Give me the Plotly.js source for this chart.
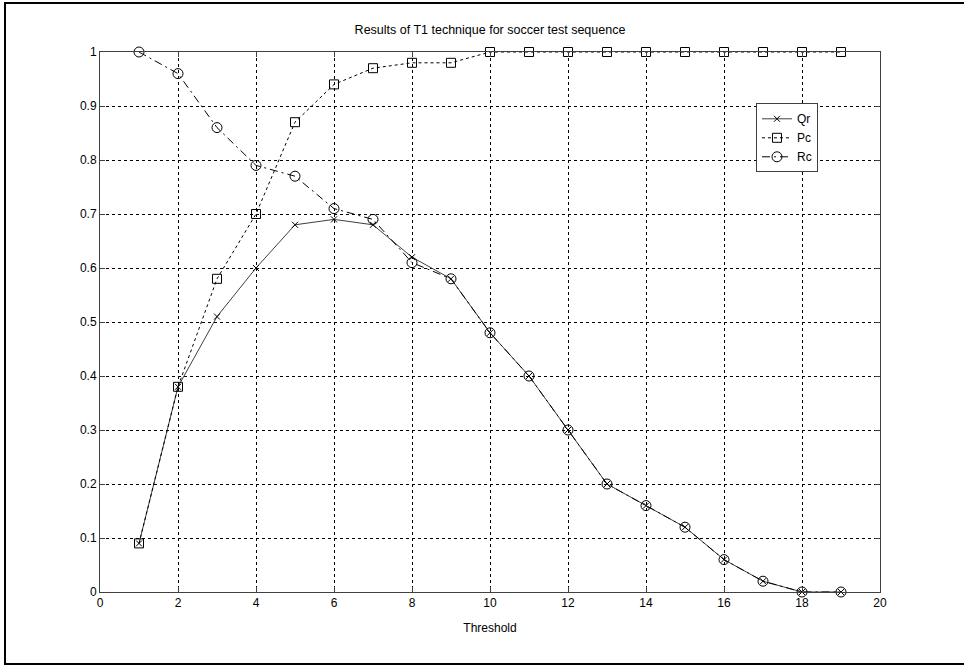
<!DOCTYPE html>
<html>
<head>
<meta charset="utf-8">
<script src="https://cdn.plot.ly/plotly-3.0.1.min.js"></script>
<style>
html,body{margin:0;padding:0;background:#fff;overflow:hidden;}
#wrap{position:relative;width:964px;height:665px;overflow:hidden;}
#chart{position:absolute;left:0;top:0;width:964px;height:665px;}
#frame{position:absolute;left:4px;top:2px;width:960px;height:663px;border:2px solid #000;border-right:none;pointer-events:none;box-sizing:border-box;}
</style>
</head>
<body>
<div id="wrap"><div id="chart"></div><div id="frame"></div></div>
<script>
const thresholds = [1,2,3,4,5,6,7,8,9,10,11,12,13,14,15,16,17,18,19];
const qr = [0.09,0.38,0.51,0.60,0.68,0.69,0.68,0.62,0.58,0.48,0.40,0.30,0.20,0.16,0.12,0.06,0.02,0.00,0.00];
const pc = [0.09,0.38,0.58,0.70,0.87,0.94,0.97,0.98,0.98,1.00,1.00,1.00,1.00,1.00,1.00,1.00,1.00,1.00,1.00];
const rc = [1.00,0.96,0.86,0.79,0.77,0.71,0.69,0.61,0.58,0.48,0.40,0.30,0.20,0.16,0.12,0.06,0.02,0.00,0.00];
const seriesNames = ['Qr','Pc','Rc'];
const xTicks = [0,2,4,6,8,10,12,14,16,18,20];
const yTicks = [0,0.1,0.2,0.3,0.4,0.5,0.6,0.7,0.8,0.9,1];
const yTickText = ['0','0.1','0.2','0.3','0.4','0.5','0.6','0.7','0.8','0.9','1'];

const traces = [
  {x: thresholds, y: qr, name: seriesNames[0], mode: 'lines+markers', cliponaxis:false,
   line:{color:'#404040', width:1, dash:'solid'},
   marker:{symbol:'x-thin-open', size:6, color:'#000', line:{color:'#000', width:1}}},
  {x: thresholds, y: pc, name: seriesNames[1], mode: 'lines+markers', cliponaxis:false,
   line:{color:'#000', width:1, dash:'3px,3px'},
   marker:{symbol:'square-open', size:9, color:'#000', line:{color:'#000', width:1}}},
  {x: thresholds, y: rc, name: seriesNames[2], mode: 'lines+markers', cliponaxis:false,
   line:{color:'#000', width:1, dash:'8px,4px,2px,4px'},
   marker:{symbol:'circle-open', size:10, color:'#000', line:{color:'#000', width:1}}}
];

const axisCommon = {
  showline:true, linecolor:'#404040', linewidth:1, mirror:'ticks',
  ticks:'inside', ticklen:5, tickcolor:'#404040', tickwidth:1,
  showgrid:true, gridcolor:'#000', gridwidth:1, griddash:'3px,3px',
  zeroline:false,
  tickfont:{family:'Liberation Sans, Arial, sans-serif', size:12, color:'#000'}
};

const layout = {
  width:964, height:665,
  margin:{l:100, r:84, t:52, b:73},
  paper_bgcolor:'#fff', plot_bgcolor:'#fff',
  title:{text:'Results of T1 technique for soccer test sequence', x:0.5083, xanchor:'center', y:0.955, yanchor:'middle',
         font:{family:'Liberation Sans, Arial, sans-serif', size:12.5, color:'#000'}},
  xaxis: Object.assign({}, axisCommon, {
    range:[0,20], tickvals:xTicks, ticktext:xTicks.map(String),
    title:{text:'Threshold', standoff:14, font:{family:'Liberation Sans, Arial, sans-serif', size:12, color:'#000'}}
  }),
  yaxis: Object.assign({}, axisCommon, {
    range:[0,1], tickvals:yTicks, ticktext:yTickText
  }),
  showlegend:true,
  legend:{x:0.841, y:0.905, xanchor:'left', yanchor:'top',
          bgcolor:'#fff', bordercolor:'#404040', borderwidth:1,
          font:{family:'Liberation Sans, Arial, sans-serif', size:12, color:'#000'},
          itemwidth:30, tracegroupgap:0}
};

Plotly.newPlot('chart', traces, layout, {displayModeBar:false, staticPlot:true});
</script>
</body>
</html>
